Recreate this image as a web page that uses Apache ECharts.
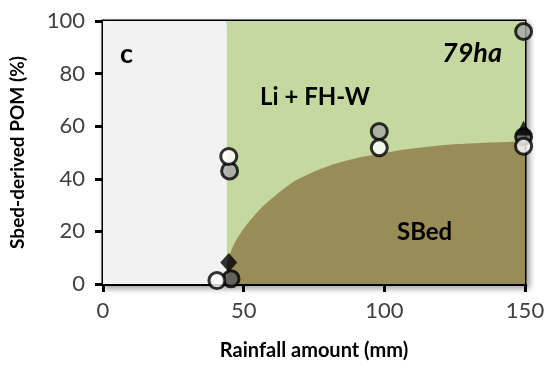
<!DOCTYPE html>
<html><head><meta charset="utf-8">
<script src="https://cdn.jsdelivr.net/npm/echarts@6/dist/echarts.min.js"></script>
<style>html,body{margin:0;padding:0;background:#fff}#c{width:551px;height:366px}</style>
</head><body><div id="c"></div>
<script>
// Regions
const greyRegion = [0, 44];
const greenRegion = [44, 150];
// SBed boundary curve (x, %)
const curveX = [44, 44.5, 45.5, 47, 50, 55, 60, 65, 70, 80, 90, 100, 110, 120, 130, 140, 150];
const curveY = [6, 9, 12.5, 16, 21, 27.5, 32.5, 36.8, 40.2, 44.8, 47.8, 49.8, 51.5, 52.7, 53.4, 53.9, 54.2];
// Observations
const whitePts = [[40.5, 1.3], [44.7, 48.5], [98.2, 51.8], [149.5, 52.4]];
const greyPts = [[45, 43], [98.2, 58], [149.5, 96]];
const darkPts = [[45.5, 2], [149.5, 56]];
const diamondPts = [[44.7, 8.2]];
const trianglePts = [[149.5, 59.3]];
const xTicks = [0, 50, 100, 150];
const yTicks = [0, 20, 40, 60, 80, 100];

const F = 'Lato, "Open Sans", sans-serif';
const chart = echarts.init(document.getElementById('c'), null, {renderer: 'canvas'});
const curve = curveX.map((x, i) => [x, curveY[i]]);
const circleStyle = c => ({color: c, borderColor: '#000', borderWidth: 3});
chart.setOption({
  animation: false,
  grid: {left: 101, right: 26, top: 21, bottom: 82, show: true, backgroundColor: '#fff',
    borderColor: '#000', borderWidth: 3,
    shadowBlur: 6, shadowColor: 'rgba(0,0,0,0.35)', shadowOffsetX: 3, shadowOffsetY: 3},
  xAxis: {type: 'value', min: xTicks[0], max: xTicks[xTicks.length - 1], interval: 50,
    name: 'Rainfall amount (mm)', nameLocation: 'middle', nameGap: 57,
    nameTextStyle: {fontFamily: F, fontWeight: 'bold', fontSize: 20, color: '#000'},
    axisLine: {lineStyle: {color: '#000', width: 3}},
    axisTick: {show: true, length: 8, lineStyle: {color: '#000', width: 3}},
    axisLabel: {fontFamily: F, fontSize: 22, color: '#404040', margin: 16},
    splitLine: {show: false}},
  yAxis: {type: 'value', min: yTicks[0], max: yTicks[yTicks.length - 1], interval: 20,
    name: 'Sbed-derived POM (%)', nameLocation: 'middle', nameGap: 76,
    nameTextStyle: {fontFamily: F, fontWeight: 'bold', fontSize: 19, color: '#000'},
    axisLine: {lineStyle: {color: '#000', width: 3}},
    axisTick: {show: true, length: 8, lineStyle: {color: '#000', width: 3}},
    axisLabel: {fontFamily: F, fontSize: 22, color: '#404040', margin: 18},
    splitLine: {show: false}},
  series: [
    {type: 'line', data: curve, smooth: 0.4, symbol: 'none', z: 1,
      lineStyle: {width: 0}, areaStyle: {color: '#988c59', opacity: 1},
      markArea: {silent: true, data: [
        [{xAxis: greyRegion[0], yAxis: 0, itemStyle: {color: '#f2f2f2'}}, {xAxis: greyRegion[1], yAxis: 100}],
        [{xAxis: greenRegion[0], yAxis: 0, itemStyle: {color: '#c5d8a0'}}, {xAxis: greenRegion[1], yAxis: 100}]
      ]}},
    {type: 'scatter', data: darkPts, symbol: 'circle', symbolSize: 16, clip: false, z: 3, itemStyle: circleStyle('#595959')},
    {type: 'scatter', data: greyPts, symbol: 'circle', symbolSize: 16, clip: false, z: 3, itemStyle: circleStyle('#a6a6a6')},
    {type: 'scatter', data: diamondPts, symbol: 'diamond', symbolSize: [17, 19], clip: false, z: 3, itemStyle: {color: '#000'}},
    {type: 'scatter', data: trianglePts, symbol: 'triangle', symbolSize: 15, clip: false, z: 3, itemStyle: {color: '#000'}},
    {type: 'scatter', data: whitePts, symbol: 'circle', symbolSize: 16, clip: false, z: 4, itemStyle: circleStyle('#ffffff')}
  ],
  graphic: [
    {type: 'text', left: 120, top: 41, z: 10, style: {text: 'c', fontFamily: F, fontWeight: 'bold', fontSize: 27, fill: '#000'}},
    {type: 'text', left: 442, top: 40, z: 10, style: {text: '79ha', fontFamily: F, fontWeight: 'bold', fontStyle: 'italic', fontSize: 27, fill: '#000'}},
    {type: 'text', left: 260, top: 85, z: 10, style: {text: 'Li + FH-W', fontFamily: F, fontWeight: 'bold', fontSize: 24, fill: '#000'}},
    {type: 'text', left: 397, top: 220, z: 10, style: {text: 'SBed', fontFamily: F, fontWeight: 'bold', fontSize: 24, fill: '#000'}}
  ]
});
</script></body></html>
